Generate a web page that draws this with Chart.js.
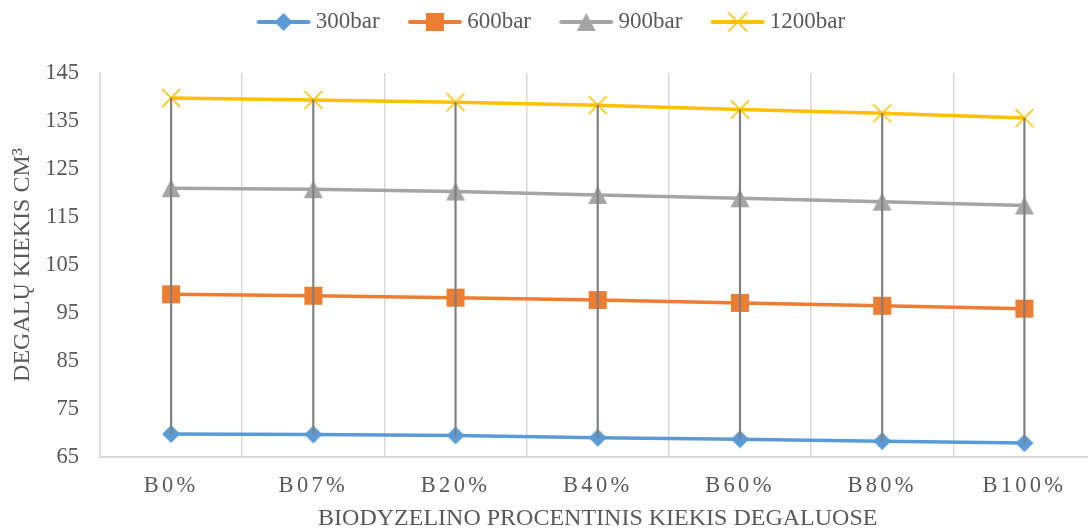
<!DOCTYPE html>
<html>
<head>
<meta charset="utf-8">
<script src="https://cdn.jsdelivr.net/npm/chart.js@4/dist/chart.umd.min.js"></script>
<style>
  html, body { margin: 0; padding: 0; overflow: hidden; background: #ffffff; }
  #wrap { width: 1108px; height: 531px; position: relative; }
</style>
</head>
<body>
<div id="wrap"><canvas id="chart"></canvas></div>
<script>
// Fuel quantity per injection pressure, by biodiesel share in the blend
const categories = ['B0%', 'B07%', 'B20%', 'B40%', 'B60%', 'B80%', 'B100%'];
const seriesNames = ['300bar', '600bar', '900bar', '1200bar'];
const values300 = [69.8, 69.7, 69.5, 69.0, 68.7, 68.3, 67.9];
const values600 = [98.9, 98.6, 98.2, 97.7, 97.1, 96.5, 95.9];
const values900 = [121.0, 120.8, 120.3, 119.6, 118.9, 118.2, 117.4];
const values1200 = [139.8, 139.4, 138.9, 138.3, 137.4, 136.6, 135.6];
const yTicks = [65, 75, 85, 95, 105, 115, 125, 135, 145];

const FONT = "'Liberation Serif', 'Times New Roman', serif";
const TEXT = '#595959';
const GRID = '#D9D9D9';
const COLORS = ['#5B9BD5', '#ED7D31', '#A5A5A5', '#FFC000'];
const MARKERS = ['diamond', 'square', 'triangle', 'cross'];

function drawMarker(g, kind, color, cx, cy) {
  g.save();
  g.fillStyle = color;
  g.strokeStyle = color;
  g.beginPath();
  if (kind === 'diamond') {
    const r = 9;
    g.moveTo(cx, cy - r); g.lineTo(cx + r, cy); g.lineTo(cx, cy + r); g.lineTo(cx - r, cy);
    g.closePath(); g.fill();
  } else if (kind === 'square') {
    const s = 9;
    g.rect(cx - s, cy - s, 2 * s, 2 * s); g.fill();
  } else if (kind === 'triangle') {
    const w = 9.5, h = 9;
    g.moveTo(cx, cy - h); g.lineTo(cx + w, cy + h); g.lineTo(cx - w, cy + h);
    g.closePath(); g.fill();
  } else {
    const r = 9;
    g.lineWidth = 1.75;
    g.moveTo(cx - r, cy - r); g.lineTo(cx + r, cy + r);
    g.moveTo(cx + r, cy - r); g.lineTo(cx - r, cy + r);
    g.stroke();
  }
  g.restore();
}

function markerImage(kind, color) {
  const c = document.createElement('canvas');
  c.width = 24; c.height = 24;
  drawMarker(c.getContext('2d'), kind, color, 12, 12);
  return c;
}

// Legend swatch: a short line segment with the series marker in its middle
function legendImage(kind, color) {
  const c = document.createElement('canvas');
  c.width = 80; c.height = 24;
  const g = c.getContext('2d');
  g.strokeStyle = color;
  g.lineWidth = 4;
  g.lineCap = 'round';
  g.beginPath(); g.moveTo(27, 12); g.lineTo(77, 12); g.stroke();
  drawMarker(g, kind, color, 52, 12);
  return c;
}

const seriesValues = [values300, values600, values900, values1200];
const legendImages = seriesNames.map((_, i) => legendImage(MARKERS[i], COLORS[i]));

// High-low connector between the lowest and highest series at each category
const highLow = categories.map((_, i) => {
  const v = seriesValues.map(s => s[i]);
  return [Math.min(...v), Math.max(...v)];
});

const datasets = seriesNames.map((name, i) => ({
  type: 'line',
  label: name,
  data: seriesValues[i],
  borderColor: COLORS[i],
  backgroundColor: COLORS[i],
  borderWidth: 3.5,
  tension: 0,
  pointStyle: markerImage(MARKERS[i], COLORS[i]),
  pointRadius: 9,
  order: 1
}));
datasets.push({
  type: 'bar',
  label: 'high-low',
  data: highLow,
  backgroundColor: '#7F7F7F',
  borderWidth: 0,
  barThickness: 1.5,
  order: -1
});

const LEGEND_BAND = 73;
const LEGEND_NUDGE = -7;

const layoutTweaks = {
  id: 'layoutTweaks',
  beforeLayout(chart) {
    const lg = chart.legend;
    if (lg && !lg.__bandFit) {
      const fit = lg.fit;
      lg.fit = function () { fit.call(this); this.height = LEGEND_BAND; };
      lg.__bandFit = true;
    }
  },
  afterLayout(chart) {
    const lg = chart.legend;
    if (lg) { lg.left += LEGEND_NUDGE; lg.right += LEGEND_NUDGE; }
    const xs = chart.scales.x;
    if (xs && !xs.__spaced) {
      const drawLabels = xs.drawLabels;
      xs.drawLabels = function (area) {
        const g = this.ctx;
        g.save();
        g.letterSpacing = '3.3px';
        drawLabels.call(this, area);
        g.restore();
      };
      xs.__spaced = true;
    }
  }
};

new Chart(document.getElementById('chart'), {
  type: 'line',
  data: { labels: categories, datasets },
  plugins: [layoutTweaks],
  options: {
    responsive: true,
    maintainAspectRatio: false,
    animation: false,
    devicePixelRatio: 1,
    layout: { padding: { left: 0, right: 10, top: 0, bottom: 0 } },
    plugins: {
      tooltip: { enabled: false },
      legend: {
        position: 'top',
        labels: {
          font: { family: FONT, size: 23 },
          color: TEXT,
          usePointStyle: true,
          pointStyleWidth: 65.5,
          padding: 10.5,
          generateLabels: chart => seriesNames.map((name, i) => ({
            text: name,
            pointStyle: legendImages[i],
            fillStyle: COLORS[i],
            strokeStyle: COLORS[i],
            lineWidth: 0,
            hidden: false,
            datasetIndex: i,
            fontColor: TEXT
          }))
        }
      }
    },
    scales: {
      x: {
        type: 'category',
        offset: true,
        grid: { offset: true, color: GRID, lineWidth: 1.5, drawTicks: false },
        border: { color: GRID, width: 2 },
        ticks: { font: { family: FONT, size: 22.5 }, color: TEXT, padding: 16 },
        title: {
          display: true,
          text: 'BIODYZELINO PROCENTINIS KIEKIS DEGALUOSE',
          font: { family: FONT, size: 24, lineHeight: 1 },
          color: TEXT,
          padding: { top: 0, bottom: 0 }
        },
        afterFit: s => { s.height = 74; }
      },
      y: {
        min: yTicks[0],
        max: yTicks[yTicks.length - 1],
        afterBuildTicks: s => { s.ticks = yTicks.map(v => ({ value: v })); },
        grid: { display: false, drawTicks: false },
        border: { color: GRID, width: 1.5 },
        ticks: { font: { family: FONT, size: 22.5 }, color: TEXT, padding: 21 },
        title: {
          display: true,
          text: 'DEGALŲ KIEKIS CM³',
          font: { family: FONT, size: 24, lineHeight: 1 },
          color: TEXT,
          padding: { top: 11, bottom: 0 }
        },
        afterFit: s => { s.width = 100; }
      }
    }
  }
});
</script>
</body>
</html>
